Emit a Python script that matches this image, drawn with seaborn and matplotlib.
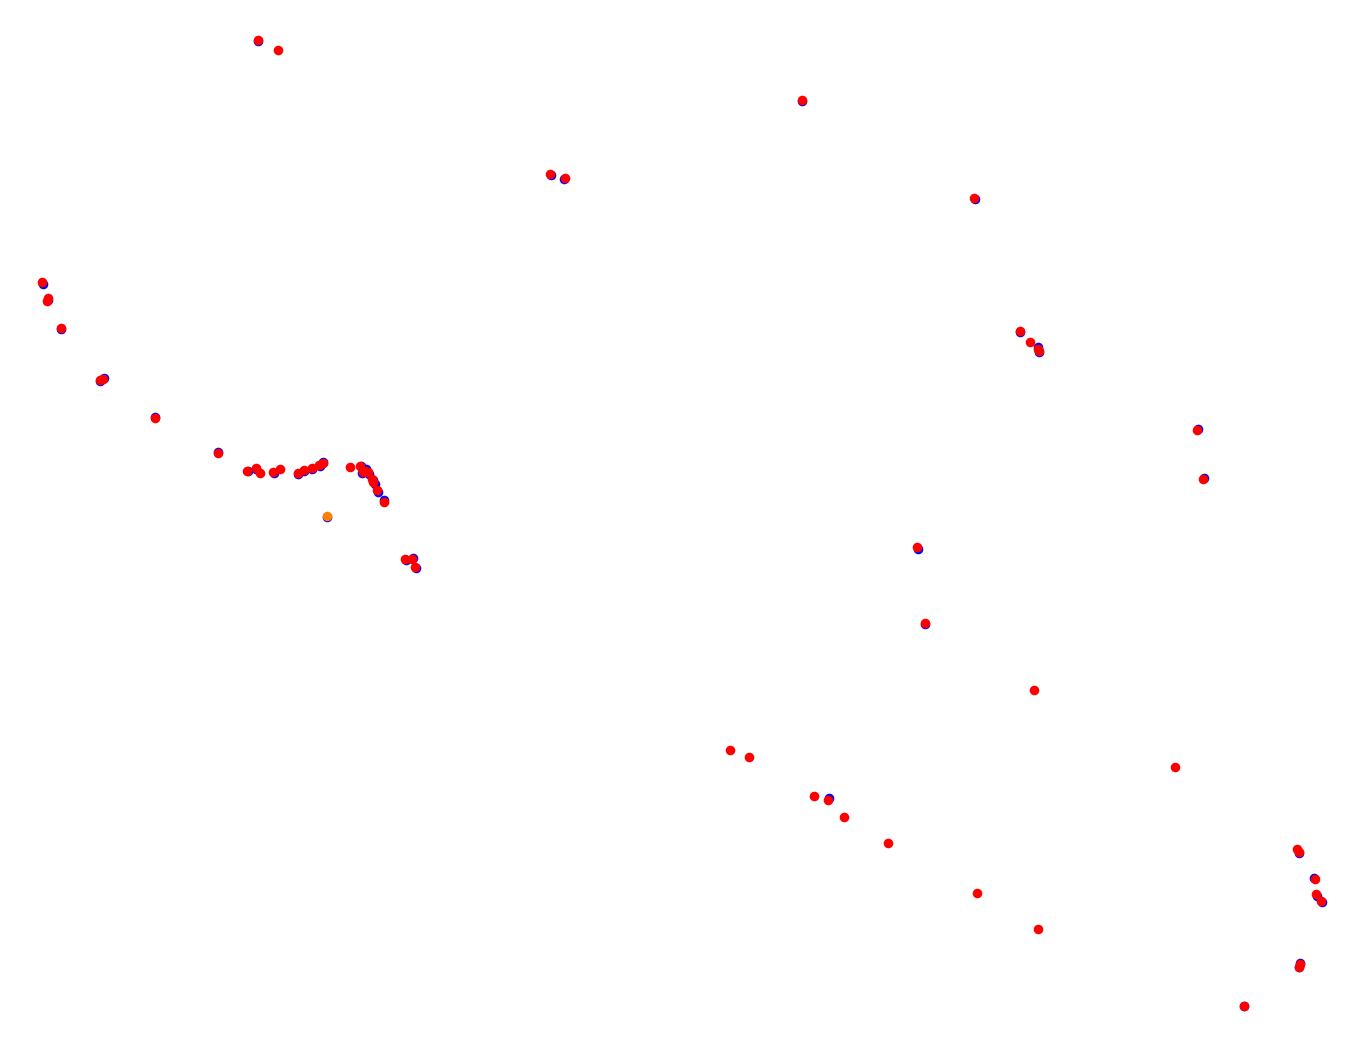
import numpy as np
import pandas as pd
import matplotlib
matplotlib.use("Agg")
import matplotlib.pyplot as plt
import seaborn as sns

sns.set_style("white")

# point positions (pixel-like units, y grows downward)
red_x = [258, 278, 802, 550, 565, 974, 42, 48, 47, 61, 100, 103, 155, 1020, 1030, 1038, 1039,
         1197, 1203, 218, 247, 256, 260, 273, 280, 298, 304, 312, 319, 323, 350, 360, 363,
         365, 368, 372, 373, 377, 384, 405, 412, 415, 917, 925, 1034, 1175, 730, 749, 814,
         828, 844, 888, 977, 1038, 1297, 1299, 1315, 1316, 1321, 1300, 1299, 1244]
red_y = [40, 50, 100, 174, 178, 198, 282, 298, 301, 328, 380, 379, 418, 331, 342, 349, 351,
         430, 479, 453, 471, 468, 473, 472, 469, 473, 470, 468, 465, 463, 467, 466, 472,
         471, 472, 479, 482, 490, 502, 559, 559, 567, 547, 623, 690, 767, 750, 757, 796,
         800, 817, 843, 893, 929, 849, 852, 879, 894, 901, 964, 967, 1006]

blue_x = [258, 802, 551, 564, 975, 43, 48, 61, 100, 104, 155, 1020, 1038, 1039, 1198, 1204,
          218, 248, 256, 274, 298, 304, 312, 320, 323, 361, 362, 366, 369, 373, 375, 378,
          384, 406, 413, 416, 918, 925, 829, 1299, 1314, 1317, 1322, 1300, 1299, 1244, 327]
blue_y = [41, 101, 175, 179, 199, 284, 300, 329, 381, 378, 417, 332, 347, 352, 429, 478,
          452, 471, 469, 473, 474, 471, 469, 466, 462, 466, 473, 469, 474, 480, 484, 492,
          500, 560, 558, 568, 549, 624, 798, 853, 878, 896, 902, 963, 967, 1006, 517]

orange_x = [327]
orange_y = [516]

W, H = 1356, 1058

blue = pd.DataFrame({"x": blue_x, "y": blue_y})
red = pd.DataFrame({"x": red_x, "y": red_y})
orange = pd.DataFrame({"x": orange_x, "y": orange_y})

fig = plt.figure(figsize=(W / 100, H / 100), dpi=100)
ax = fig.add_axes([0, 0, 1, 1])

sns.scatterplot(data=blue, x="x", y="y", color="#0000ff", s=48, linewidth=0, ax=ax)
sns.scatterplot(data=red, x="x", y="y", color="#ff0000", s=48, linewidth=0, ax=ax)
sns.scatterplot(data=orange, x="x", y="y", color="#ff8000", s=48, linewidth=0, ax=ax)

ax.set_xlim(0, W)
ax.set_ylim(H, 0)
ax.set_axis_off()

fig.savefig("out.png", dpi=100, facecolor="white")
plt.close(fig)
